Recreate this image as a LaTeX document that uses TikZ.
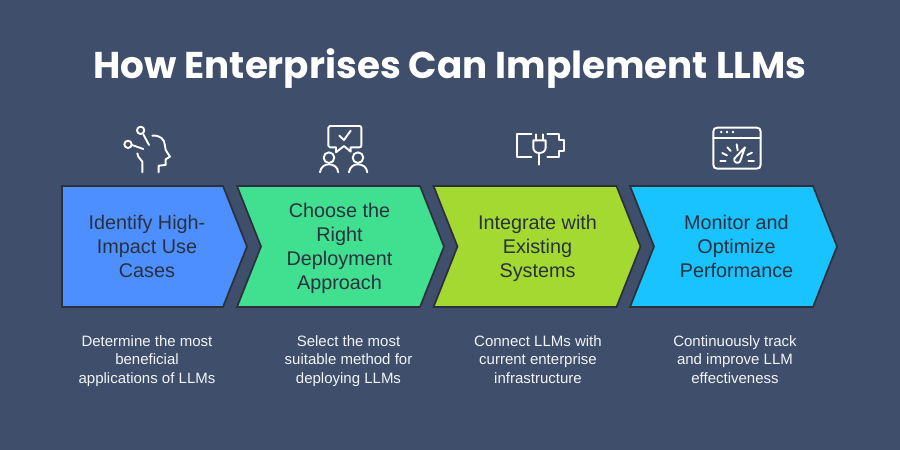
\documentclass[tikz,border=0pt]{standalone}
\usepackage{fontspec}
\setmainfont{Liberation Sans}
\newfontfamily\titlefont{Poppins}[UprightFont=*-Bold]
\definecolor{bgc}{HTML}{3F4E6A}
\definecolor{edgec}{HTML}{2B303C}
\definecolor{inkc}{HTML}{2A313E}
\definecolor{paperc}{HTML}{F2F4F7}
\definecolor{bluec}{HTML}{4D8FFF}
\definecolor{greenc}{HTML}{40E090}
\definecolor{limec}{HTML}{A3D930}
\definecolor{cyanc}{HTML}{19C3FF}
\tikzset{
  stepshape/.style={draw=edgec,line width=1.7pt,line join=miter},
  steptext/.style={text=inkc,font=\fontsize{19.8}{24.2}\selectfont,align=center,inner sep=0pt},
  desctext/.style={text=paperc,font=\fontsize{15}{18.6}\selectfont,align=center,inner sep=0pt},
  iconline/.style={draw=white,line width=1.9pt,line cap=round,line join=round,fill=none},
  iconframe/.style={shift={(#1,115)},x=0.3333pt,y=-0.3333pt}
}
\begin{document}
\begin{tikzpicture}[x=1pt,y=-1pt]
\path[fill=bgc] (0,0) rectangle (900,450);
\useasboundingbox (0,0) rectangle (900,450);
\node[text=white,font=\titlefont\fontsize{37.3}{40}\selectfont,inner sep=0pt] (title) at (450,68.5) {How Enterprises Can Implement LLMs};
% chevrons
\path[stepshape,fill=bluec] (62,186) -- (223,186) -- (247,246.5) -- (223,307) -- (62,307) -- cycle;
\path[stepshape,fill=greenc] (237,186) -- (420,186) -- (444,246.5) -- (420,307) -- (237,307) -- (261,246.5) -- cycle;
\path[stepshape,fill=limec] (433.5,186) -- (616.5,186) -- (640.5,246.5) -- (616.5,307) -- (433.5,307) -- (457.5,246.5) -- cycle;
\path[stepshape,fill=cyanc] (630,186) -- (813,186) -- (837,246.5) -- (813,307) -- (630,307) -- (654,246.5) -- cycle;
\node[steptext] (s1) at (147,248.5) {\strut Identify High-\\\strut Impact Use\\\strut Cases};
\node[steptext] (s2) at (339.5,248.5) {\strut Choose the\\\strut Right\\\strut Deployment\\\strut Approach};
\node[steptext] (s3) at (537.5,248.5) {\strut Integrate with\\\strut Existing\\\strut Systems};
\node[steptext] (s4) at (736.5,248.5) {\strut Monitor and\\\strut Optimize\\\strut Performance};
\node[desctext] (d1) at (147,361) {\strut Determine the most\\\strut beneficial\\\strut applications of LLMs};
\node[desctext] (d2) at (348.5,361) {\strut Select the most\\\strut suitable method for\\\strut deploying LLMs};
\node[desctext] (d3) at (538,361) {\strut Connect LLMs with\\\strut current enterprise\\\strut infrastructure};
\node[desctext] (d4) at (735,361) {\strut Continuously track\\\strut and improve LLM\\\strut effectiveness};
% head and chat icons
\begin{scope}[iconframe=100]
\draw[iconline] (122,46) circle[radius=11];
\draw[iconline] (130,58) -- (147,90);
\draw[iconline] (84,88) circle[radius=11];
\draw[iconline] (96,90) -- (130,102);
\draw[iconline] (157,62) .. controls (180,60) and (194,72) .. (195,92) -- (197,105) -- (210,125) -- (197,133) -- (197,150) -- (176,152) -- (176,172);
\draw[iconline] (112,115) -- (115,125) -- (127,140) -- (127,172);
\draw[iconline] (690,33) -- (778,33) .. controls (782,33) and (784,35) .. (784,38) -- (784,92) .. controls (784,95) and (782,97) .. (778,97) -- (752,97) -- (752,110) -- (732,93) -- (708,112) -- (708,97) -- (690,97) .. controls (687,97) and (685,95) .. (685,92) -- (685,38) .. controls (685,35) and (687,33) .. (690,33) -- cycle;
\draw[iconline] (718,62) -- (732,75) -- (752,47);
\draw[iconline] (687,128) circle[radius=16];
\draw[iconline] (660,172) .. controls (662,155) and (675,148) .. (687,148) .. controls (700,148) and (713,155) .. (715,172);
\draw[iconline] (774,128) circle[radius=16];
\draw[iconline] (747,172) .. controls (749,155) and (762,148) .. (774,148) .. controls (787,148) and (800,155) .. (802,172);
\end{scope}
% plug and gauge icons
\begin{scope}[iconframe=490]
\draw[iconline] (124,57) -- (80,57) -- (80,125) -- (124,125);
\draw[iconline] (172,57) -- (208,57) -- (208,75) -- (223,75) -- (223,107) -- (208,107) -- (208,125) -- (172,125);
\draw[iconline] (130,76) -- (167,76) -- (167,98) .. controls (167,108) and (158,114) .. (148,114) .. controls (138,114) and (130,108) .. (130,98) -- cycle;
\draw[iconline] (139,58) -- (139,76);
\draw[iconline] (158,58) -- (158,76);
\draw[iconline] (148,114) -- (148,149);
\draw[iconline] (682,38) -- (800,38) .. controls (808,38) and (812,42) .. (812,50) -- (812,149) .. controls (812,157) and (808,161) .. (800,161) -- (682,161) .. controls (674,161) and (670,157) .. (670,149) -- (670,50) .. controls (670,42) and (674,38) .. (682,38) -- cycle;
\draw[iconline] (670,68) -- (812,68);
\fill[white] (694,51) circle[radius=4] (711,51) circle[radius=4] (729,51) circle[radius=4];
\draw[iconline] (765,97) -- (750,140) .. controls (744,147) and (730,143) .. (733,131) -- cycle;
\draw[iconline] (740,88) -- (743,106);
\draw[iconline] (712,97) -- (722,108);
\draw[iconline] (697,114) -- (711,121);
\draw[iconline] (691,139) -- (707,139);
\draw[iconline] (786,113) -- (772,120);
\draw[iconline] (775,139) -- (792,139);
\end{scope}
\end{tikzpicture}
\end{document}
